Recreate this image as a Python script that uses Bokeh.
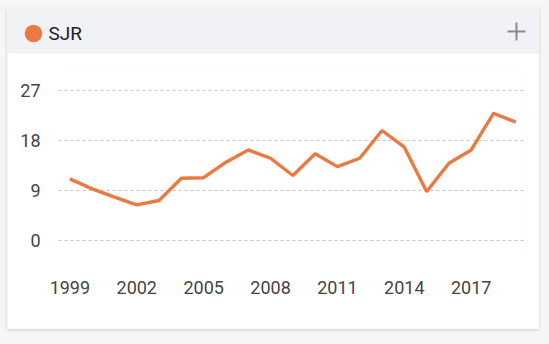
from bokeh.plotting import figure
from bokeh.layouts import column
from bokeh.models import Range1d, FixedTicker
from bokeh.core.properties import value
from bokeh.embed import file_html
from bokeh.resources import INLINE

# ---- data ----
years = [1999, 2000, 2001, 2002, 2003, 2004, 2005, 2006, 2007, 2008, 2009,
         2010, 2011, 2012, 2013, 2014, 2015, 2016, 2017, 2018, 2019]
sjr = [11.1, 9.3, 7.8, 6.4, 7.2, 11.2, 11.3, 14.1, 16.3, 14.8, 11.7,
       15.6, 13.3, 14.8, 19.8, 16.8, 8.8, 13.9, 16.3, 22.9, 21.3]
y_ticks = [0, 9, 18, 27]
x_ticks = years[::3]
series_name = "SJR"

ORANGE = "#ea7a41"
FONT = "Roboto"

# ---- header ----
hdr = figure(width=532, height=46, output_backend="svg", toolbar_location=None,
             x_range=Range1d(0, 532), y_range=Range1d(46, 0),
             x_axis_location=None, y_axis_location=None,
             min_border=0, outline_line_color=None,
             background_fill_color="#f1f2f5", border_fill_color="#f1f2f5")
hdr.frame_align = False
hdr.grid.visible = False
hdr.scatter(x=[26], y=[26], size=17.5, color=ORANGE, line_color=None)
hdr.text(x=[41], y=[26], text=[series_name], text_font=value(FONT),
         text_font_size="19px", text_color="#1f1f1f", text_baseline="middle")
hdr.segment(x0=[500, 509], y0=[24, 15], x1=[518, 509], y1=[24, 33],
            line_color="#8a8a8a", line_width=2)

# ---- chart ----
p = figure(width=532, height=276, output_backend="svg", toolbar_location=None,
           x_range=Range1d(1998.49, 2019.48), y_range=Range1d(-3.96, 31.32),
           min_border_left=51, min_border_right=13, min_border_top=13,
           min_border_bottom=67, outline_line_color=None,
           background_fill_color="white", border_fill_color="white")
p.frame_align = False
p.line(years, sjr, line_width=3.4, color=ORANGE)

p.xaxis.ticker = FixedTicker(ticks=x_ticks)
p.yaxis.ticker = FixedTicker(ticks=y_ticks)
for ax in (p.xaxis[0], p.yaxis[0]):
    ax.axis_line_color = None
    ax.major_tick_line_color = None
    ax.minor_tick_line_color = None
    ax.major_tick_out = 0
    ax.major_tick_in = 0
    ax.major_label_text_font = FONT
    ax.major_label_text_font_size = "18px"
    ax.major_label_text_color = "#444444"
p.xaxis.major_label_standoff = 18
p.yaxis.major_label_standoff = 18
p.xgrid.visible = False
p.ygrid.grid_line_color = "#c6c6c6"
p.ygrid.grid_line_dash = "3 3"
p.ygrid.grid_line_width = 1

card = column(hdr, p, spacing=0, margin=(7, 10, 15, 7),
              styles={"box-shadow": "0 1px 3px rgba(0,0,0,0.18)"})
root = column(card, width=549, height=344,
              styles={"background-color": "#f6f6f6"})

open("out.html", "w").write(file_html(root, INLINE))
